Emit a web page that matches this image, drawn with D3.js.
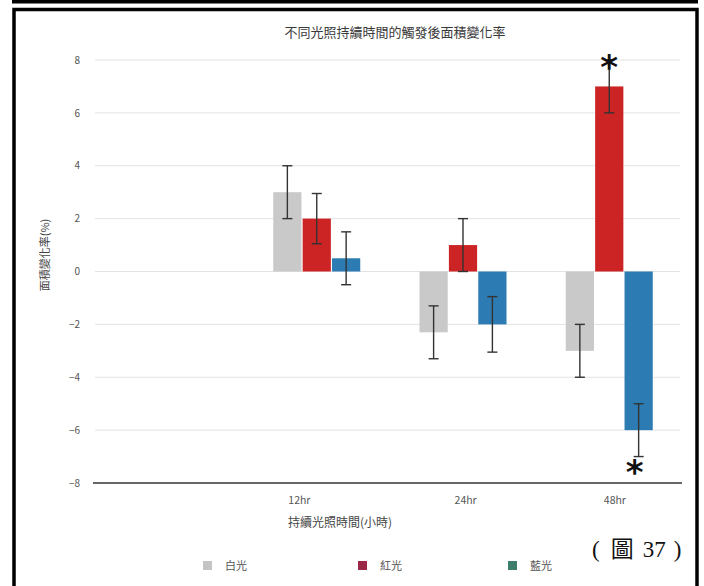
<!DOCTYPE html>
<html>
<head>
<meta charset="utf-8">
<script src="https://cdn.jsdelivr.net/npm/d3@7"></script>
<style>
  html, body { margin: 0; padding: 0; background: #fff; }
  svg { display: block; }
</style>
</head>
<body>
<svg id="chart" width="704" height="586"></svg>
<script>
// Groups on the x axis (first slot left empty), light series and their values
const categories = ["", "12hr", "24hr", "48hr"];
const series = ["白光", "紅光", "藍光"];
const white = [null, 3.0, -2.3, -3.0];
const red = [null, 2.0, 1.0, 7.0];
const blue = [null, 0.5, -2.0, -6.0];
const whiteErr = [null, 1.0, 1.0, 1.0];
const redErr = [null, 0.95, 1.0, 1.0];
const blueErr = [null, 1.0, 1.05, 1.0];
const yTicks = [-8, -6, -4, -2, 0, 2, 4, 6, 8];
// significance marks: [category, series, side]
const stars = [["48hr", "紅光", "top"], ["48hr", "藍光", "bottom"]];

const barColors = ["#c9c9c9", "#cc2424", "#2c7bb3"];
const legendColors = ["#c4c4c4", "#9a2846", "#3d7d6c"];
// small horizontal nudges of the category labels
const labelNudge = { "12hr": -15, "24hr": 5, "48hr": 8 };

const svg = d3.select("#chart");
const font = "'Noto Sans CJK TC', 'Noto Sans', sans-serif";

// page frame
svg.append("rect").attr("x", 12).attr("y", 0).attr("width", 686).attr("height", 3.5).attr("fill", "#000");
svg.append("path")
  .attr("d", "M14,600 L14,9.5 L697,9.5 L697,600")
  .attr("fill", "none").attr("stroke", "#000").attr("stroke-width", 3.5);

const x = d3.scaleBand().domain(categories).range([95, 680]).paddingInner(0).paddingOuter(0);
const x1 = d3.scaleBand().domain(series).range([32, 119]).paddingInner(0.04);
const y = d3.scaleLinear().domain([-8, 8]).range([483, 60]);

// gridlines
svg.append("g").selectAll("line").data(yTicks.filter(t => t !== -8)).join("line")
  .attr("x1", 95).attr("x2", 680)
  .attr("y1", d => y(d)).attr("y2", d => y(d))
  .attr("stroke", "#e3e3e3").attr("stroke-width", 1);

// y tick labels
const yAxis = d3.axisLeft(y).tickValues(yTicks).tickSize(0).tickPadding(0);
const gy = svg.append("g").attr("transform", "translate(80,0)").call(yAxis);
gy.select(".domain").remove();
gy.selectAll("text").attr("font-family", font).attr("font-size", 10).attr("fill", "#555");

// baseline at -8
svg.append("line").attr("x1", 93).attr("x2", 682).attr("y1", y(-8)).attr("y2", y(-8))
  .attr("stroke", "#333").attr("stroke-width", 1.5);

// bars
const rows = categories.map((c, i) => ({
  cat: c,
  vals: [
    { s: series[0], v: white[i], e: whiteErr[i], color: barColors[0] },
    { s: series[1], v: red[i], e: redErr[i], color: barColors[1] },
    { s: series[2], v: blue[i], e: blueErr[i], color: barColors[2] }
  ].filter(d => d.v !== null)
}));

const groups = svg.append("g").selectAll("g").data(rows).join("g")
  .attr("transform", d => `translate(${x(d.cat)},0)`);

groups.selectAll("rect").data(d => d.vals).join("rect")
  .attr("x", d => x1(d.s))
  .attr("width", x1.bandwidth())
  .attr("y", d => y(Math.max(0, d.v)))
  .attr("height", d => Math.abs(y(d.v) - y(0)))
  .attr("fill", d => d.color);

// error bars
const eb = groups.selectAll("g.err").data(d => d.vals).join("g").attr("class", "err")
  .attr("transform", d => `translate(${x1(d.s) + x1.bandwidth() / 2},0)`);
eb.append("line").attr("y1", d => y(d.v + d.e)).attr("y2", d => y(d.v - d.e))
  .attr("stroke", "#333").attr("stroke-width", 1.4);
eb.append("line").attr("x1", -5).attr("x2", 5).attr("y1", d => y(d.v + d.e)).attr("y2", d => y(d.v + d.e))
  .attr("stroke", "#333").attr("stroke-width", 1.4);
eb.append("line").attr("x1", -5).attr("x2", 5).attr("y1", d => y(d.v - d.e)).attr("y2", d => y(d.v - d.e))
  .attr("stroke", "#333").attr("stroke-width", 1.4);

// significance asterisks
svg.append("g").selectAll("text").data(stars).join("text")
  .attr("x", d => x(d[0]) + x1(d[1]) + x1.bandwidth() / 2 - (d[2] === "top" ? 0 : 4))
  .attr("y", d => {
    const i = categories.indexOf(d[0]);
    const si = series.indexOf(d[1]);
    const v = [white, red, blue][si][i];
    const e = [whiteErr, redErr, blueErr][si][i];
    return d[2] === "top" ? y(v + e) + 19 : y(v - e) + 27;
  })
  .attr("text-anchor", "middle")
  .attr("font-family", "'DejaVu Sans', sans-serif").attr("font-size", 34).attr("font-weight", "bold")
  .attr("fill", "#111").text("*");

// category labels
svg.append("g").selectAll("text").data(categories.filter(c => c)).join("text")
  .attr("x", d => x(d) + x.bandwidth() / 2 + labelNudge[d])
  .attr("y", 504)
  .attr("text-anchor", "middle")
  .attr("font-family", font).attr("font-size", 10.5).attr("fill", "#555")
  .text(d => d);

// titles
svg.append("text").attr("x", 395).attr("y", 37).attr("text-anchor", "middle")
  .attr("font-family", font).attr("font-size", 13).attr("fill", "#3a3a3a")
  .text("不同光照持續時間的觸發後面積變化率");
svg.append("text").attr("x", 340).attr("y", 527).attr("text-anchor", "middle")
  .attr("font-family", font).attr("font-size", 12).attr("fill", "#444")
  .text("持續光照時間(小時)");
svg.append("text").attr("transform", "translate(49,255) rotate(-90)").attr("text-anchor", "middle")
  .attr("font-family", font).attr("font-size", 11).attr("fill", "#444")
  .text("面積變化率(%)");

// legend
const legendX = [203, 358, 508];
const lg = svg.append("g").selectAll("g").data(series).join("g")
  .attr("transform", (d, i) => `translate(${legendX[i]},566)`);
lg.append("rect").attr("x", 0).attr("y", -5).attr("width", 9).attr("height", 9)
  .attr("fill", (d, i) => legendColors[i]);
lg.append("text").attr("x", 22).attr("y", 4)
  .attr("font-family", font).attr("font-size", 11).attr("fill", "#555").text(d => d);

// figure number, with its parts spaced apart
const fig = svg.append("text").attr("x", 592).attr("y", 557)
  .attr("font-family", "'Liberation Serif', 'Noto Sans CJK TC', serif").attr("font-size", 23)
  .attr("fill", "#111");
[["(", 0], ["圖", 11], ["37", 9], [")", 8]].forEach(([t, dx]) => {
  fig.append("tspan").attr("dx", dx).text(t);
});
</script>
</body>
</html>
